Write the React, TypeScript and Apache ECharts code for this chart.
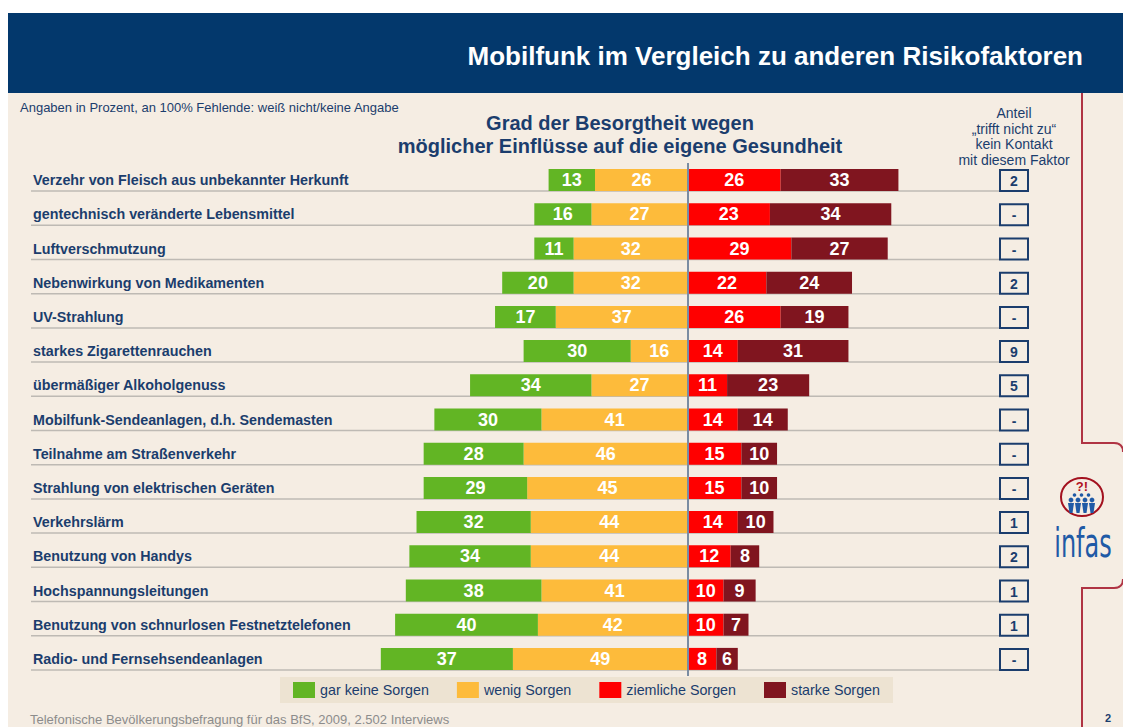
import React, { useEffect, useRef } from 'react';
import * as echarts from 'echarts';

const categories = [
  'Verzehr von Fleisch aus unbekannter Herkunft',
  'gentechnisch veränderte Lebensmittel',
  'Luftverschmutzung',
  'Nebenwirkung von Medikamenten',
  'UV-Strahlung',
  'starkes Zigarettenrauchen',
  'übermäßiger Alkoholgenuss',
  'Mobilfunk-Sendeanlagen, d.h. Sendemasten',
  'Teilnahme am Straßenverkehr',
  'Strahlung von elektrischen Geräten',
  'Verkehrslärm',
  'Benutzung von Handys',
  'Hochspannungsleitungen',
  'Benutzung von schnurlosen Festnetztelefonen',
  'Radio- und Fernsehsendeanlagen',
];
const garKeineSorgen = [13, 16, 11, 20, 17, 30, 34, 30, 28, 29, 32, 34, 38, 40, 37];
const wenigSorgen = [26, 27, 32, 32, 37, 16, 27, 41, 46, 45, 44, 44, 41, 42, 49];
const ziemlicheSorgen = [26, 23, 29, 22, 26, 14, 11, 14, 15, 15, 14, 12, 10, 10, 8];
const starkeSorgen = [33, 34, 27, 24, 19, 31, 23, 14, 10, 10, 10, 8, 9, 7, 6];
const keinKontakt = ['2', '-', '-', '2', '-', '9', '5', '-', '-', '-', '1', '2', '1', '1', '-'];
const seriesNames = ['gar keine Sorgen', 'wenig Sorgen', 'ziemliche Sorgen', 'starke Sorgen'];

const FONT = '"Liberation Sans", Arial, Helvetica, sans-serif';
const BLUE = '#1B3D6D';
const BG = '#F5EDE3';

export default function App() {
  const ref = useRef<HTMLDivElement>(null);
  useEffect(() => {
    if (!ref.current) return;
    const chart = echarts.init(ref.current, undefined, { renderer: 'svg' });
    const barLabel = {
      show: true,
      position: 'inside',
      color: '#ffffff',
      fontWeight: 'bold',
      fontSize: 18,
      fontFamily: FONT,
      formatter: (p: any) => String(Math.abs(p.value)),
    };
    const people: any[] = [];
    [1071, 1078, 1085, 1092].forEach((cx) => {
      people.push({ type: 'circle', shape: { cx, cy: 500, r: 2.4 }, style: { fill: '#1F5AA6' } });
      people.push({
        type: 'polygon',
        shape: { points: [[cx - 3, 503], [cx + 3, 503], [cx + 1.5, 513], [cx - 1.5, 513]] },
        style: { fill: '#1F5AA6' },
      });
    });
    [1074.5, 1081.5, 1088.5].forEach((cx) => {
      people.push({ type: 'circle', shape: { cx, cy: 495, r: 1.8 }, style: { fill: '#1F5AA6' } });
    });

    chart.setOption({
      animation: false,
      backgroundColor: BG,
      grid: { left: 31, top: 163, width: 997, height: 513, containLabel: false },
      xAxis: { type: 'value', min: -184, max: 95.3, show: false },
      yAxis: {
        type: 'category',
        inverse: true,
        data: categories,
        axisLine: { show: false },
        axisTick: { show: false },
        splitLine: { show: false },
        axisLabel: {
          inside: true,
          margin: 2,
          interval: 0,
          color: BLUE,
          fontWeight: 'bold',
          fontSize: 14.3,
          fontFamily: FONT,
        },
      },
      legend: {
        data: seriesNames,
        left: 280,
        top: 677,
        orient: 'horizontal',
        itemWidth: 22,
        itemHeight: 16,
        itemGap: 28,
        padding: [5, 13, 5, 13],
        backgroundColor: '#EDE3D2',
        icon: 'rect',
        selectedMode: false,
        textStyle: { color: BLUE, fontSize: 14.3, fontFamily: FONT },
      },
      series: [
        {
          type: 'custom',
          z: 1,
          silent: true,
          data: keinKontakt.map((_, i) => [0, i]),
          encode: { x: 0, y: 1 },
          renderItem: (params: any, api: any) => {
            const pt = api.coord([0, api.value(1)]);
            const cs = params.coordSys;
            const y = pt[1];
            const boxX = cs.x + cs.width - 28;
            return {
              type: 'group',
              children: [
                {
                  type: 'line',
                  shape: { x1: cs.x, y1: y + 11, x2: boxX, y2: y + 11 },
                  style: { stroke: '#BEBAB4', lineWidth: 1.5 },
                },
                {
                  type: 'rect',
                  shape: { x: boxX, y: y - 10, width: 28, height: 21 },
                  style: { fill: BG, stroke: BLUE, lineWidth: 2 },
                },
                {
                  type: 'text',
                  style: {
                    text: keinKontakt[params.dataIndex],
                    x: boxX + 14,
                    y: y + 1,
                    fill: BLUE,
                    font: `bold 14px ${FONT}`,
                    align: 'center',
                    verticalAlign: 'middle',
                  },
                },
              ],
            };
          },
        },
        {
          name: 'wenig Sorgen',
          type: 'bar',
          stack: 'total',
          barWidth: 22,
          itemStyle: { color: '#FDBB3B' },
          label: barLabel,
          data: wenigSorgen.map((v) => -v),
        },
        {
          name: 'gar keine Sorgen',
          type: 'bar',
          stack: 'total',
          barWidth: 22,
          itemStyle: { color: '#62B524' },
          label: barLabel,
          data: garKeineSorgen.map((v) => -v),
        },
        {
          name: 'ziemliche Sorgen',
          type: 'bar',
          stack: 'total',
          barWidth: 22,
          itemStyle: { color: '#FF0000' },
          label: barLabel,
          data: ziemlicheSorgen,
          markLine: {
            silent: true,
            symbol: 'none',
            label: { show: false },
            lineStyle: { color: '#7A8CA2', width: 2, type: 'solid' },
            data: [{ xAxis: 0 }],
          },
        },
        {
          name: 'starke Sorgen',
          type: 'bar',
          stack: 'total',
          barWidth: 22,
          itemStyle: { color: '#80151F' },
          label: barLabel,
          data: starkeSorgen,
        },
      ],
      graphic: [
        { type: 'rect', shape: { x: 0, y: 0, width: 1123, height: 13 }, style: { fill: '#ffffff' } },
        { type: 'rect', shape: { x: 0, y: 0, width: 8, height: 727 }, style: { fill: '#ffffff' } },
        { type: 'rect', shape: { x: 8, y: 13, width: 1115, height: 80 }, style: { fill: '#03386C' } },
        {
          type: 'text',
          style: {
            text: 'Mobilfunk im Vergleich zu anderen Risikofaktoren',
            x: 1083,
            y: 56,
            fill: '#ffffff',
            font: `bold 26px ${FONT}`,
            align: 'right',
            verticalAlign: 'middle',
          },
        },
        {
          type: 'text',
          style: {
            text: 'Angaben in Prozent, an 100% Fehlende: weiß nicht/keine Angabe',
            x: 20,
            y: 107,
            fill: BLUE,
            font: `13px ${FONT}`,
            align: 'left',
            verticalAlign: 'middle',
          },
        },
        {
          type: 'text',
          style: {
            text: 'Grad der Besorgtheit wegen',
            x: 620,
            y: 123,
            fill: BLUE,
            font: `bold 20px ${FONT}`,
            align: 'center',
            verticalAlign: 'middle',
          },
        },
        {
          type: 'text',
          style: {
            text: 'möglicher Einflüsse auf die eigene Gesundheit',
            x: 620,
            y: 146,
            fill: BLUE,
            font: `bold 20px ${FONT}`,
            align: 'center',
            verticalAlign: 'middle',
          },
        },
        ...['Anteil', '„trifft nicht zu“', 'kein Kontakt', 'mit diesem Faktor'].map((t, i) => ({
          type: 'text',
          style: {
            text: t,
            x: 1014,
            y: 113 + i * 15.5,
            fill: BLUE,
            font: `14px ${FONT}`,
            align: 'center',
            verticalAlign: 'middle',
          },
        })),
        {
          type: 'polyline',
          shape: { points: [[1082, 93], [1082, 443], [1114, 443]] },
          style: { stroke: '#B03444', lineWidth: 2, fill: 'none' },
        },
        {
          type: 'bezierCurve',
          shape: { x1: 1114, y1: 443, cpx1: 1121, cpy1: 443, cpx2: 1123, cpy2: 447, x2: 1123, y2: 452 },
          style: { stroke: '#B03444', lineWidth: 2, fill: 'none' },
        },
        {
          type: 'bezierCurve',
          shape: { x1: 1123, y1: 579, cpx1: 1123, cpy1: 584, cpx2: 1121, cpy2: 588, x2: 1114, y2: 588 },
          style: { stroke: '#B03444', lineWidth: 2, fill: 'none' },
        },
        {
          type: 'polyline',
          shape: { points: [[1114, 588], [1082, 588], [1082, 727]] },
          style: { stroke: '#B03444', lineWidth: 2, fill: 'none' },
        },
        {
          type: 'ellipse',
          shape: { cx: 1082, cy: 497, rx: 21, ry: 19 },
          style: { stroke: '#A3111F', lineWidth: 2, fill: 'none' },
        },
        {
          type: 'text',
          style: {
            text: '?!',
            x: 1082,
            y: 486,
            fill: '#B01020',
            font: `bold 13px ${FONT}`,
            align: 'center',
            verticalAlign: 'middle',
          },
        },
        ...people,
        {
          type: 'text',
          x: 1083,
          y: 543,
          scaleX: 0.6,
          style: {
            text: 'infas',
            x: 0,
            y: 0,
            fill: '#1F5AA6',
            font: `40px "DejaVu Sans", ${FONT}`,
            align: 'center',
            verticalAlign: 'middle',
          },
        },
        {
          type: 'text',
          style: {
            text: 'Telefonische Bevölkerungsbefragung für das BfS, 2009, 2.502 Interviews',
            x: 30,
            y: 719,
            fill: '#8C8C8C',
            font: `13px ${FONT}`,
            align: 'left',
            verticalAlign: 'middle',
          },
        },
        {
          type: 'text',
          style: {
            text: '2',
            x: 1108,
            y: 718,
            fill: BLUE,
            font: `bold 11px ${FONT}`,
            align: 'center',
            verticalAlign: 'middle',
          },
        },
      ],
    });
    return () => chart.dispose();
  }, []);
  return (
    <div
      ref={ref}
      style={{ position: 'absolute', left: 0, top: 0, width: 1123, height: 727 }}
    />
  );
}
